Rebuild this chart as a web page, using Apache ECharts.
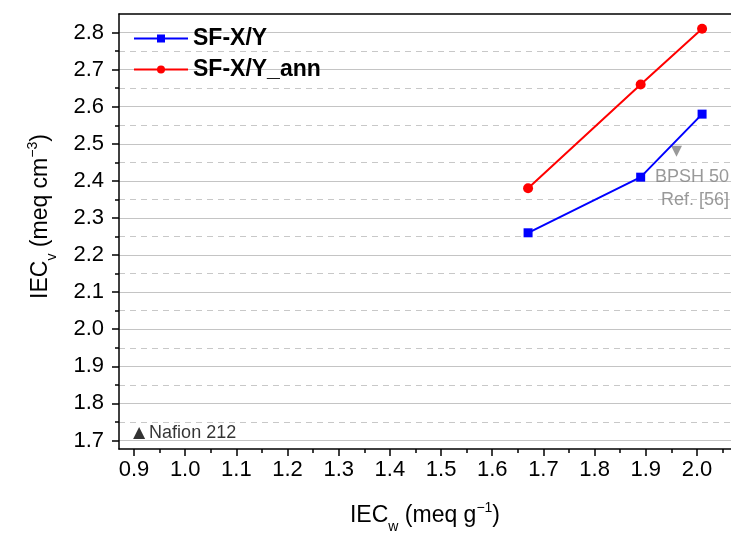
<!DOCTYPE html>
<html>
<head>
<meta charset="utf-8">
<script src="https://cdn.jsdelivr.net/npm/echarts@6/dist/echarts.min.js"></script>
<style>
  html, body { margin: 0; padding: 0; background: #fff; }
  #chart { width: 731px; height: 533px; }
</style>
</head>
<body>
<div id="chart"></div>
<script>
// IEC by weight (meq/g) vs. IEC by volume (meq/cm3)
const iecW = [1.67, 1.89, 2.01];
const sfXY = [2.26, 2.41, 2.58];
const sfXYann = [2.38, 2.66, 2.81];

// Reference membranes
const bpsh = [1.96, 2.48];
const nafion = [0.91, 1.72];

// Axis ticks
const xMajor = [0.9, 1.0, 1.1, 1.2, 1.3, 1.4, 1.5, 1.6, 1.7, 1.8, 1.9, 2.0];
const xMinor = [0.95, 1.05, 1.15, 1.25, 1.35, 1.45, 1.55, 1.65, 1.75, 1.85, 1.95, 2.05];
const yMajor = [1.7, 1.8, 1.9, 2.0, 2.1, 2.2, 2.3, 2.4, 2.5, 2.6, 2.7, 2.8];
const yMinor = [1.75, 1.85, 1.95, 2.05, 2.15, 2.25, 2.35, 2.45, 2.55, 2.65, 2.75];

const X_MIN = 0.8707, X_MAX = 2.0665;
const Y_MIN = 1.677, Y_MAX = 2.85;

const FONT = "'Liberation Sans', Arial, sans-serif";

const chart = echarts.init(document.getElementById('chart'), null, { renderer: 'canvas' });

const pair = (xs, ys) => xs.map((x, i) => [x, ys[i]]);

const titleRich = {
  a: { fontFamily: FONT, fontSize: 23, color: '#000', lineHeight: 30 },
  sub: { fontFamily: FONT, fontSize: 14, color: '#000', verticalAlign: 'bottom', lineHeight: 30, padding: [0, 0, -3, 0] },
  sup: { fontFamily: FONT, fontSize: 14, color: '#000', verticalAlign: 'top', lineHeight: 30 }
};

const option = {
  backgroundColor: '#ffffff',
  animation: false,
  textStyle: { fontFamily: FONT },
  grid: { left: 119, top: 14, right: 0, bottom: 84, containLabel: false, outerBoundsMode: 'none' },
  legend: {
    orient: 'vertical',
    left: 128,
    top: 22,
    itemWidth: 54,
    itemHeight: 10,
    itemGap: 8,
    textStyle: { fontFamily: FONT, fontSize: 23, fontWeight: 'bold', color: '#000' },
    data: ['SF-X/Y', 'SF-X/Y_ann']
  },
  xAxis: [
    {
      type: 'value', position: 'bottom', min: X_MIN, max: X_MAX,
      name: '{a|IEC}{sub|w}{a| (meq g}{sup|−1}{a|)}',
      nameLocation: 'middle', nameGap: 52,
      nameTextStyle: { rich: titleRich },
      axisLine: { show: true, lineStyle: { color: '#000', width: 1.5 } },
      axisTick: { show: true, inside: false, length: 7, customValues: xMajor, lineStyle: { color: '#000', width: 1.5 } },
      axisLabel: { show: true, customValues: xMajor, margin: 10, fontSize: 22, color: '#000', fontFamily: FONT,
        formatter: v => v.toFixed(1) },
      splitLine: { show: false }
    },
    {
      type: 'value', position: 'bottom', min: X_MIN, max: X_MAX,
      axisLine: { show: false },
      axisTick: { show: true, inside: false, length: 4, customValues: xMinor, lineStyle: { color: '#000', width: 1.5 } },
      axisLabel: { show: false },
      splitLine: { show: false }
    },
    {
      type: 'value', position: 'top', min: X_MIN, max: X_MAX,
      axisLine: { show: true, lineStyle: { color: '#000', width: 1.5 } },
      axisTick: { show: false },
      axisLabel: { show: false },
      splitLine: { show: false }
    }
  ],
  yAxis: [
    {
      type: 'value', position: 'left', min: Y_MIN, max: Y_MAX,
      name: '{a|IEC}{sub|v}{a| (meq cm}{sup|−3}{a|)}',
      nameLocation: 'middle', nameGap: 63, nameRotate: 90,
      nameTextStyle: { rich: titleRich, padding: [0, 0, 0, 30] },
      axisLine: { show: true, lineStyle: { color: '#000', width: 1.5 } },
      axisTick: { show: true, inside: false, length: 7, customValues: yMajor, lineStyle: { color: '#000', width: 1.5 } },
      axisLabel: { show: true, customValues: yMajor, margin: 15, fontSize: 22, color: '#000', fontFamily: FONT,
        formatter: v => v.toFixed(1) },
      splitLine: { show: true, lineStyle: { color: '#c4c4c4', width: 1.2, type: 'solid' } }
    },
    {
      type: 'value', position: 'left', min: Y_MIN, max: Y_MAX,
      axisLine: { show: false },
      axisTick: { show: true, inside: false, length: 4, customValues: yMinor, lineStyle: { color: '#000', width: 1.5 } },
      axisLabel: { show: false },
      splitLine: { show: true, lineStyle: { color: '#c8c8c8', width: 1.2, type: [6, 5] } }
    }
  ],
  series: [
    {
      name: 'SF-X/Y', type: 'line', xAxisIndex: 0, yAxisIndex: 0,
      data: pair(iecW, sfXY),
      symbol: 'rect', symbolSize: 9,
      itemStyle: { color: '#0000ff' },
      lineStyle: { color: '#0000ff', width: 2 },
      z: 5
    },
    {
      name: 'SF-X/Y_ann', type: 'line', xAxisIndex: 0, yAxisIndex: 0,
      data: pair(iecW, sfXYann),
      symbol: 'circle', symbolSize: 10,
      itemStyle: { color: '#ff0000' },
      lineStyle: { color: '#ff0000', width: 2 },
      z: 5
    },
    {
      name: 'BPSH 50', type: 'scatter', xAxisIndex: 0, yAxisIndex: 0,
      data: [bpsh],
      symbol: 'triangle', symbolRotate: 180, symbolSize: 11,
      itemStyle: { color: '#808080' },
      label: {
        show: true, position: [58, 20], align: 'right', verticalAlign: 'top',
        formatter: 'BPSH 50\nRef. [56]',
        fontFamily: FONT, fontSize: 18, lineHeight: 23, color: '#808080'
      },
      z: 4
    },
    {
      name: 'Nafion 212', type: 'scatter', xAxisIndex: 0, yAxisIndex: 0,
      data: [nafion],
      symbol: 'triangle', symbolSize: 12,
      itemStyle: { color: '#000000' },
      label: {
        show: true, position: 'right', distance: 4,
        formatter: 'Nafion 212',
        fontFamily: FONT, fontSize: 18, color: '#000'
      },
      z: 4
    }
  ]
};

chart.setOption(option);
</script>
</body>
</html>
